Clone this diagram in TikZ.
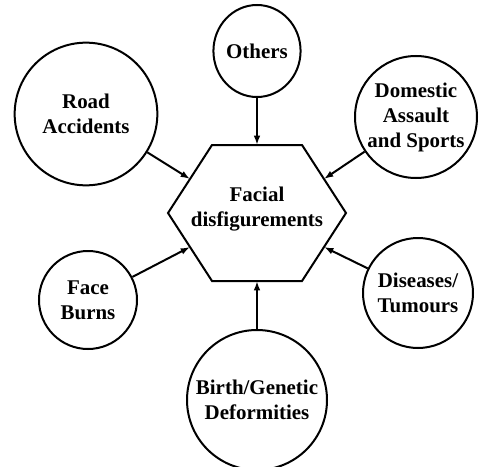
\documentclass[tikz,border=0pt]{standalone}
\usepackage{fontspec}
\setmainfont{Liberation Serif}
\usetikzlibrary{arrows.meta,shapes.geometric}
\begin{document}
\begin{tikzpicture}[x=0.75pt,y=-0.75pt,line width=1.5pt,
    cause/.style={draw,circle,inner sep=0pt,align=center,font=\fontsize{15.7}{18.75}\selectfont\bfseries},
    arr/.style={-{Latex[length=7pt,width=5pt]}}]
  \useasboundingbox (0,0) rectangle (482,467);
  \draw (212,145)--(302,145)--(346,213)--(302,281)--(212,281)--(168,213)--cycle;
  \coordinate (hexN) at (257,145);
  \coordinate (hexS) at (257,281);
  \coordinate (hexNW) at (190,179);
  \coordinate (hexNE) at (324,179);
  \coordinate (hexSW) at (190,247);
  \coordinate (hexSE) at (324,247);
  \node [align=center,font=\fontsize{15.7}{18.75}\selectfont\bfseries] (hex) at (257,209) {Facial\\disfigurements};
  \node [cause,ellipse,minimum width=60pt,minimum height=69pt] (others) at (257,51) {Others};
  \node [cause,minimum size=107pt] (road) at (86,114) {Road\\Accidents};
  \node [cause,minimum size=91.5pt] (domestic) at (416,117) {Domestic\\Assault\\and Sports};
  \node [cause,minimum size=73.5pt] (face) at (88,300) {Face\\Burns};
  \node [cause,minimum size=82.5pt] (diseases) at (418,293) {Diseases/\\Tumours};
  \node [cause,minimum size=105pt] (birth) at (257,400) {Birth/Genetic\\Deformities};
  \draw[arr] (others) -- (hexN);
  \draw[arr] (road) -- (hexNW);
  \draw[arr] (domestic) -- (hexNE);
  \draw[arr] (face) -- (hexSW);
  \draw[arr] (diseases) -- (hexSE);
  \draw[arr] (birth) -- (hexS);
\end{tikzpicture}
\end{document}
